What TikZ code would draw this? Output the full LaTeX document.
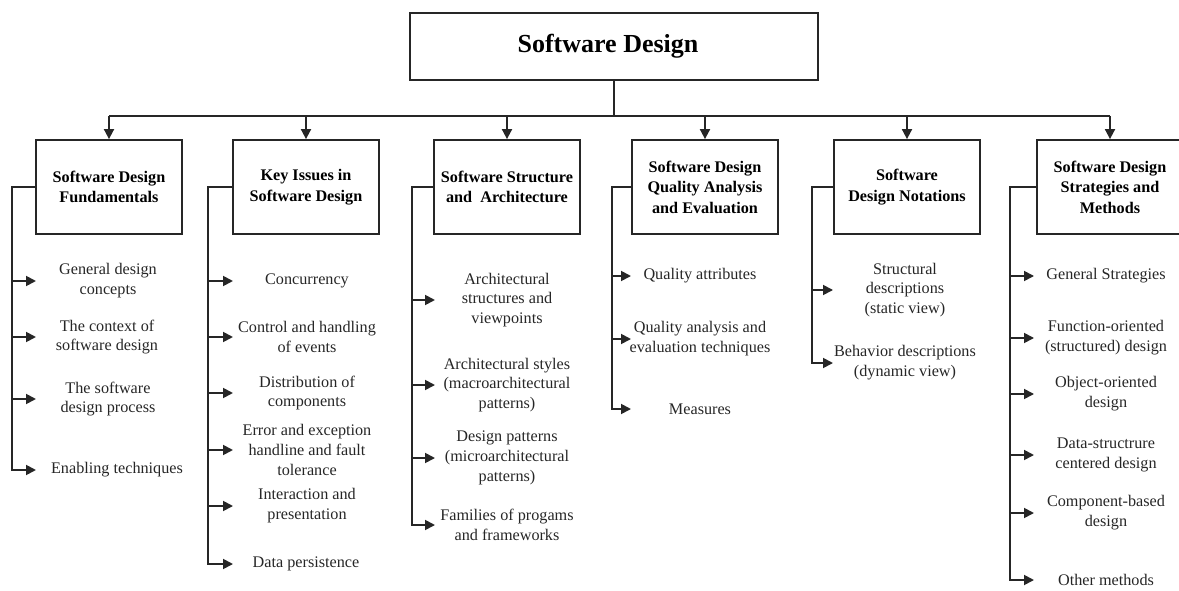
\documentclass[tikz,border=0pt]{standalone}
\usepackage{fontspec}
\setmainfont{Liberation Serif}
\usetikzlibrary{arrows.meta}

\tikzset{
  wire/.style={line width=1.8pt, black!85},
  arr/.style={wire, -{Triangle[length=10pt,width=10pt]}},
  topbox/.style={draw=black!85, line width=1.8pt, minimum width=408pt, minimum height=67pt,
                 inner sep=0pt, font=\fontsize{26}{30}\selectfont\bfseries},
  headbox/.style={draw=black!85, line width=1.8pt, minimum width=146pt, minimum height=94pt,
                  inner sep=0pt, align=center, font=\fontsize{16.2}{20.4}\selectfont\bfseries},
  item/.style={inner sep=0pt, align=center, text=black!85, font=\fontsize{16.2}{19.8}\selectfont}
}

\begin{document}
\begin{tikzpicture}[x=1pt, y=-1pt]
  \useasboundingbox (0,0) rectangle (1179,591);
  \clip (0,0) rectangle (1179,591);

  % root
  \node[topbox] (root) at (614,46.5) {\hspace{-12pt}Software Design};

  % knowledge areas
  \node[headbox] (h1) at (109,187)  {Software Design\\Fundamentals};
  \node[headbox] (h2) at (306,187)  {Key Issues in\\Software Design};
  \node[headbox] (h3) at (507,187)  {Software Structure\\and\ \ Architecture};
  \node[headbox] (h4) at (705,187)  {Software Design\\Quality Analysis\\and Evaluation};
  \node[headbox] (h5) at (907,187)  {Software\\Design Notations};
  \node[headbox] (h6) at (1110,187) {Software Design\\Strategies and\\Methods};

  % bus from the root to the knowledge areas
  \coordinate (bus) at (614,116);
  \draw[wire] (root.south) -- (bus);
  \draw[wire] (h1.north |- bus) -- (h6.north |- bus);
  \foreach \h in {h1,h2,h3,h4,h5,h6}
    \draw[arr] (\h.north |- bus) -- (\h.north);

  % column spines (x of the vertical line) and arrow tips
  \coordinate (s1) at (12,0);   \coordinate (t1) at (36,0);
  \coordinate (s2) at (208,0);  \coordinate (t2) at (233,0);
  \coordinate (s3) at (412,0);  \coordinate (t3) at (435,0);
  \coordinate (s4) at (612,0);  \coordinate (t4) at (631,0);
  \coordinate (s5) at (812,0);  \coordinate (t5) at (833,0);
  \coordinate (s6) at (1010,0); \coordinate (t6) at (1034,0);

  % column 1
  \node[item] (a1) at (108,281) {General design\\concepts};
  \node[item] (a2) at (107,337) {The context of\\software design};
  \node[item] (a3) at (108,399) {The software\\design process};
  \node[item] (a4) at (117,470) {Enabling techniques};

  % column 2
  \node[item] (b1) at (307,281) {Concurrency};
  \node[item] (b2) at (307,337) {Control and handling\\of events};
  \node[item] (b3) at (307,393) {Distribution of\\components};
  \node[item] (b4) at (307,450) {Error and exception\\handline and fault\\tolerance};
  \node[item] (b5) at (307,506) {Interaction and\\presentation};
  \node[item] (b6) at (306,564) {Data persistence};

  % column 3
  \node[item] (c1) at (507,300) {Architectural\\structures and\\viewpoints};
  \node[item] (c2) at (507,385) {Architectural styles\\(macroarchitectural\\patterns)};
  \node[item] (c3) at (507,458) {Design patterns\\(microarchitectural\\patterns)};
  \node[item] (c4) at (507,525) {Families of progams\\and frameworks};

  % column 4
  \node[item] (d1) at (700,276) {Quality attributes};
  \node[item] (d2) at (700,339) {Quality analysis and\\evaluation techniques};
  \node[item] (d3) at (700,409) {Measures};

  % column 5
  \node[item] (e1) at (905,290) {Structural\\descriptions\\(static view)};
  \node[item] (e2) at (905,363) {Behavior descriptions\\(dynamic view)};

  % column 6
  \node[item] (f1) at (1106,276) {General Strategies};
  \node[item] (f2) at (1106,338) {Function-oriented\\(structured) design};
  \node[item] (f3) at (1106,394) {Object-oriented\\design};
  \node[item] (f4) at (1106,455) {Data-structrure\\centered design};
  \node[item] (f5) at (1106,513) {Component-based\\design};
  \node[item] (f6) at (1106,580) {Other methods};

  % spines: box side -> down -> last item
  \draw[arr] (h1.west) -- (s1 |- h1.west) -- (s1 |- a4) -- (t1 |- a4);
  \foreach \n in {a1,a2,a3} \draw[arr] (s1 |- \n) -- (t1 |- \n);

  \draw[arr] (h2.west) -- (s2 |- h2.west) -- (s2 |- b6) -- (t2 |- b6);
  \foreach \n in {b1,b2,b3,b4,b5} \draw[arr] (s2 |- \n) -- (t2 |- \n);

  \draw[arr] (h3.west) -- (s3 |- h3.west) -- (s3 |- c4) -- (t3 |- c4);
  \foreach \n in {c1,c2,c3} \draw[arr] (s3 |- \n) -- (t3 |- \n);

  \draw[arr] (h4.west) -- (s4 |- h4.west) -- (s4 |- d3) -- (t4 |- d3);
  \foreach \n in {d1,d2} \draw[arr] (s4 |- \n) -- (t4 |- \n);

  \draw[arr] (h5.west) -- (s5 |- h5.west) -- (s5 |- e2) -- (t5 |- e2);
  \foreach \n in {e1} \draw[arr] (s5 |- \n) -- (t5 |- \n);

  \draw[arr] (h6.west) -- (s6 |- h6.west) -- (s6 |- f6) -- (t6 |- f6);
  \foreach \n in {f1,f2,f3,f4,f5} \draw[arr] (s6 |- \n) -- (t6 |- \n);
\end{tikzpicture}
\end{document}
